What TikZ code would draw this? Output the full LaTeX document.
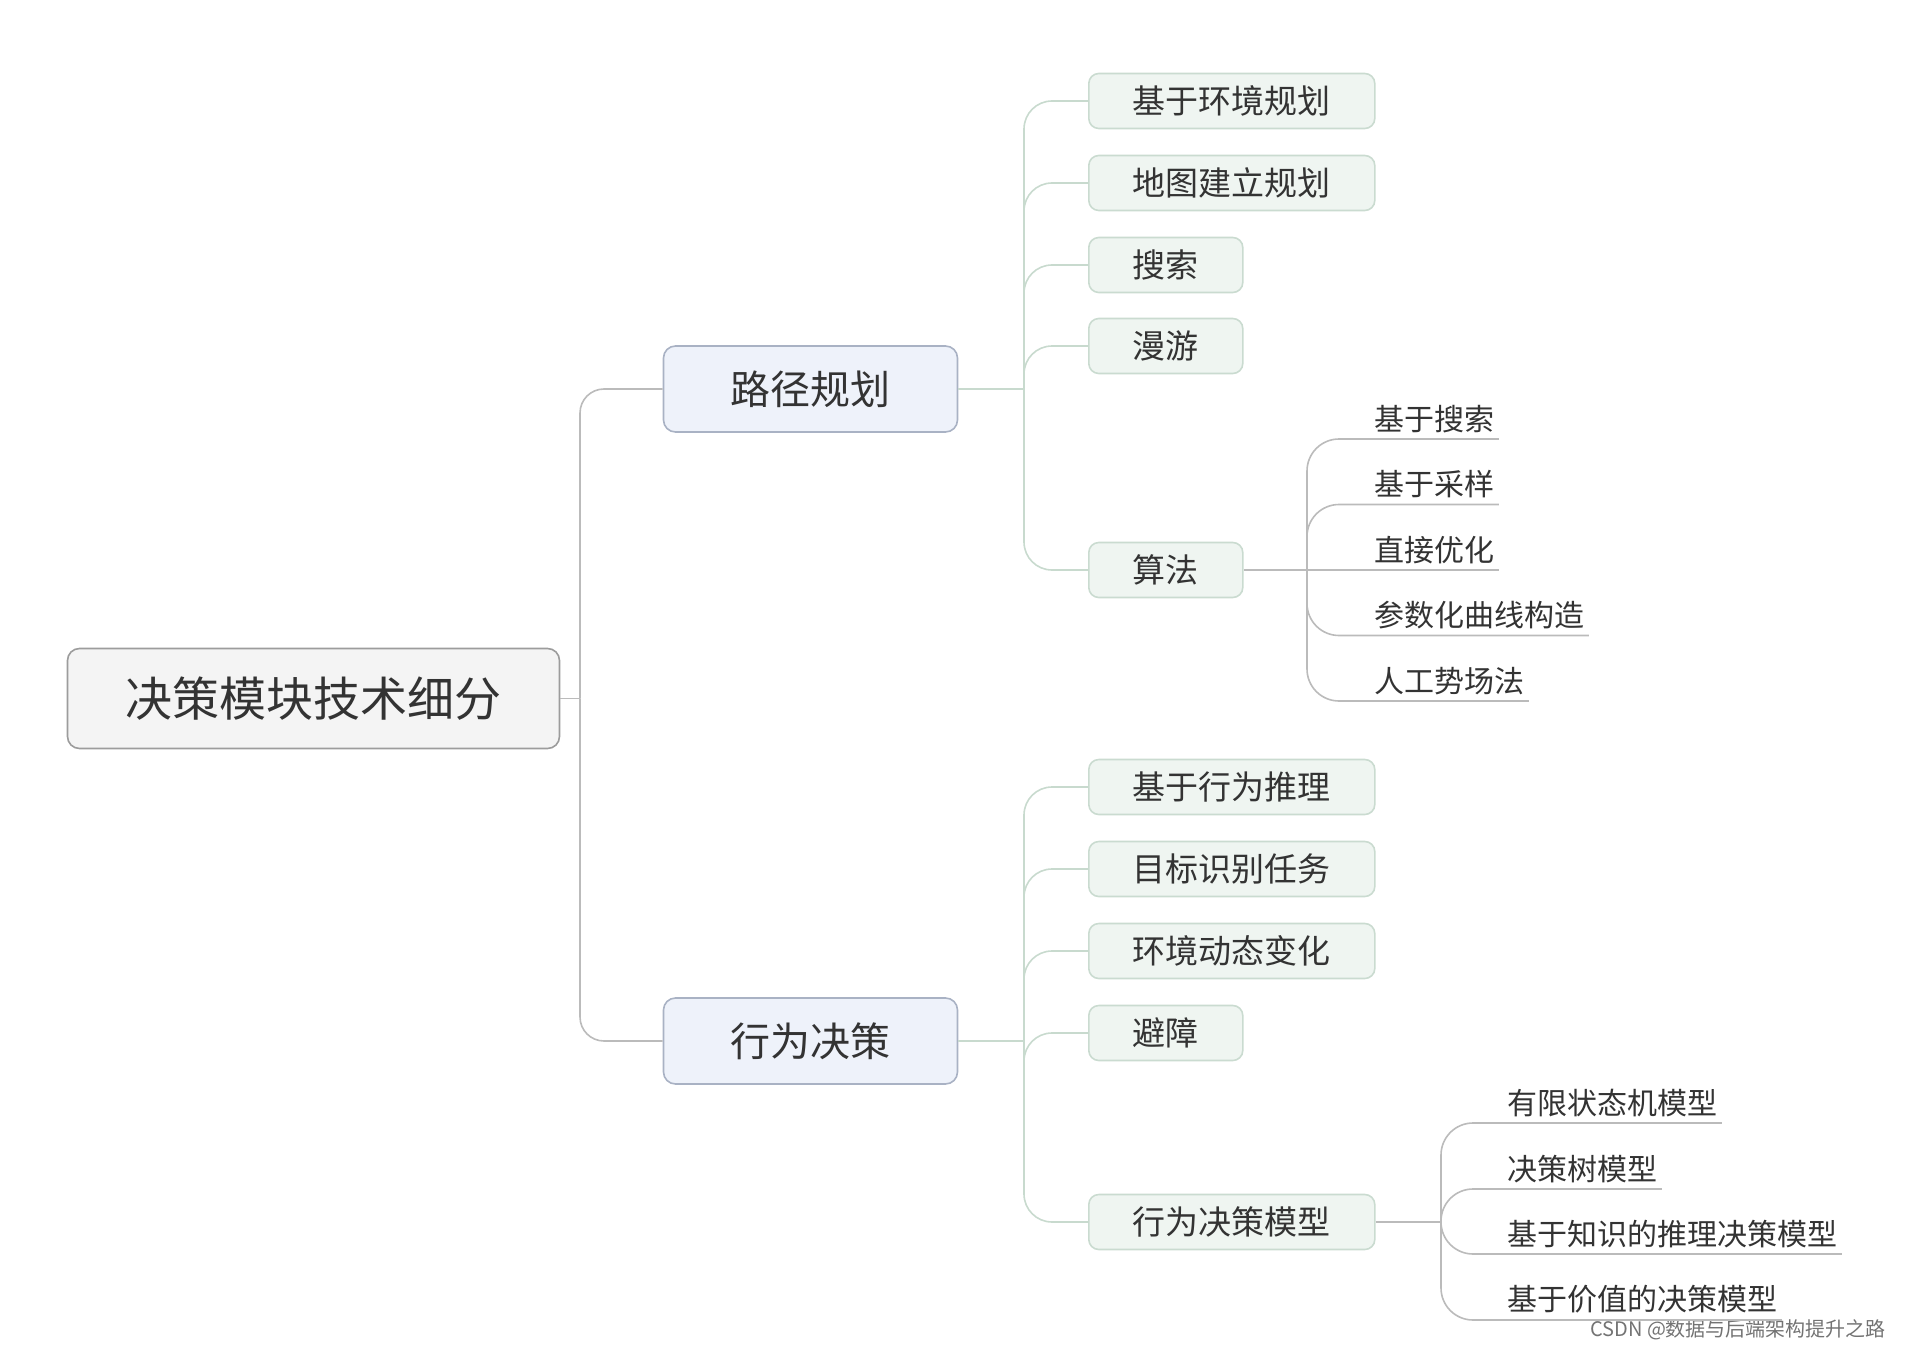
\documentclass[tikz,border=0pt]{standalone}
\usepackage{fontspec}
\setmainfont{Noto Sans CJK SC}
\usepackage{xcolor}
\usepackage{tikz}
\usetikzlibrary{positioning}

\definecolor{txt}{HTML}{333333}
\definecolor{rootfill}{HTML}{F4F4F4}
\definecolor{rootline}{HTML}{9C9C9C}
\definecolor{mainfill}{HTML}{EEF2FA}
\definecolor{mainline}{HTML}{A9B2C4}
\definecolor{subfill}{HTML}{EFF5F1}
\definecolor{subline}{HTML}{CADBD0}
\definecolor{wire}{HTML}{BBBBBB}
\definecolor{subwire}{HTML}{C8DACE}

\begin{document}
\begin{tikzpicture}[
  x=0.5pt, y=-0.5pt,
  topic/.style={draw=rootline, fill=rootfill, rounded corners=6pt, line width=0.8pt,
                minimum width=246pt, minimum height=50pt, text=txt,
                font=\fontsize{23.5}{28}\selectfont},
  maintopic/.style={draw=mainline, fill=mainfill, rounded corners=6pt, line width=0.8pt,
                    minimum width=147pt, minimum height=43pt, text=txt,
                    font=\fontsize{20}{24}\selectfont},
  subtopic/.style={draw=subline, fill=subfill, rounded corners=5pt, line width=0.8pt,
                   anchor=west, inner xsep=22pt, minimum height=27.5pt, text=txt,
                   font=\fontsize{16.5}{20}\selectfont},
  leaf/.style={anchor=south west, inner xsep=2pt, inner ysep=3pt, text=txt,
               font=\fontsize{15}{18}\selectfont},
  link/.style={draw=wire, line width=0.8pt, rounded corners=12pt},
  sublink/.style={draw=subwire, line width=0.8pt, rounded corners=14pt},
  leaflink/.style={draw=wire, line width=0.8pt, rounded corners=16pt}
]
  \useasboundingbox (0,0) rectangle (1906,1348);

  \node[topic] (root) at (313.5,698.5) {决策模块技术细分};
  \node[maintopic] (plan) at (810.5,389) {路径规划};
  \node[maintopic] (behav) at (810.5,1041) {行为决策};

  \node[subtopic] (p1) at (1088,101) {基于环境规划};
  \node[subtopic] (p2) at (1088,183) {地图建立规划};
  \node[subtopic] (p3) at (1088,265) {搜索};
  \node[subtopic] (p4) at (1088,346) {漫游};
  \node[subtopic] (p5) at (1088,570) {算法};

  \node[subtopic] (b1) at (1088,787) {基于行为推理};
  \node[subtopic] (b2) at (1088,869) {目标识别任务};
  \node[subtopic] (b3) at (1088,951) {环境动态变化};
  \node[subtopic] (b4) at (1088,1033) {避障};
  \node[subtopic] (b5) at (1088,1222) {行为决策模型};

  \node[leaf] (a1) at (1370,439) {基于搜索};
  \node[leaf] (a2) at (1370,504.5) {基于采样};
  \node[leaf] (a3) at (1370,570) {直接优化};
  \node[leaf] (a4) at (1370,635.5) {参数化曲线构造};
  \node[leaf] (a5) at (1370,701) {人工势场法};

  \node[leaf] (m1) at (1503,1123) {有限状态机模型};
  \node[leaf] (m2) at (1503,1189) {决策树模型};
  \node[leaf] (m3) at (1503,1254) {基于知识的推理决策模型};
  \node[leaf] (m4) at (1503,1320) {基于价值的决策模型};

  \node[anchor=east, text=black!55, font=\fontsize{10}{12}\selectfont] (mark) at (1893,1330) {CSDN @数据与后端架构提升之路};

  \coordinate (rj) at (580,698.5);
  \coordinate (pj) at (1024,389);
  \coordinate (bj) at (1024,1041);
  \coordinate (aj) at (1307,570);
  \coordinate (mj) at (1441,1222);

  \draw[link] (root.east) -- (rj);
  \draw[link] (rj) |- (plan);
  \draw[link] (rj) |- (behav);

  \draw[sublink] (plan) -- (pj);
  \draw[sublink] (pj) |- (p1);
  \draw[sublink] (pj) |- (p2);
  \draw[sublink] (pj) |- (p3);
  \draw[sublink] (pj) |- (p4);
  \draw[sublink] (pj) |- (p5);

  \draw[sublink] (behav) -- (bj);
  \draw[sublink] (bj) |- (b1);
  \draw[sublink] (bj) |- (b2);
  \draw[sublink] (bj) |- (b3);
  \draw[sublink] (bj) |- (b4);
  \draw[sublink] (bj) |- (b5);

  \draw[leaflink] (p5) -- (aj);
  \draw[leaflink] (aj) |- (a1.south east);
  \draw[leaflink] (aj) |- (a2.south east);
  \draw[leaflink] (aj) -- (a3.south east);
  \draw[leaflink] (aj) |- (a4.south east);
  \draw[leaflink] (aj) |- (a5.south east);

  \draw[leaflink] (b5) -- (mj);
  \draw[leaflink] (mj) |- (m1.south east);
  \draw[leaflink] (mj) |- (m2.south east);
  \draw[leaflink] (mj) |- (m3.south east);
  \draw[leaflink] (mj) |- (m4.south east);
\end{tikzpicture}
\end{document}
